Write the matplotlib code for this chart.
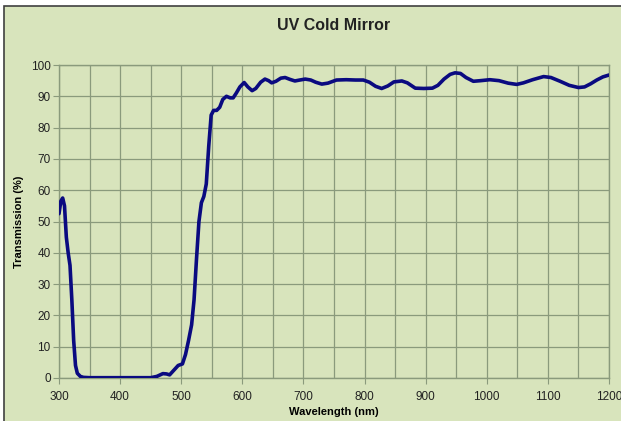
import matplotlib
matplotlib.use("Agg")
import matplotlib.pyplot as plt
from matplotlib.patches import Rectangle
import numpy as np

plt.rcParams['font.family'] = ['Liberation Sans', 'DejaVu Sans']

wavelength = [300, 303, 306, 309, 312, 315, 318, 321, 324, 327, 330, 335, 340, 350, 400, 450,
              460, 470, 476, 481, 488, 495, 502, 507, 512, 517, 521, 525, 529, 533, 537, 541,
              545, 549, 553, 558, 563, 568, 574, 580, 585, 590, 596, 603, 609, 616, 622, 630,
              637, 643, 648, 655, 663, 670, 678, 686, 694, 703, 712, 720, 730, 740, 754, 770,
              785, 798, 808, 818, 828, 838, 848, 861, 870, 883, 897, 911, 920, 930, 940, 948,
              957, 966, 978, 990, 1005, 1020, 1035, 1049, 1060, 1075, 1093, 1105, 1120, 1135,
              1150, 1160, 1170, 1180, 1190, 1200]
transmission = [52.5, 56.5, 57.5, 55.0, 45.0, 40.0, 36.0, 25.0, 12.0, 4.0, 1.5, 0.5, 0.2, 0.1, 0.1, 0.1,
                0.5, 1.4, 1.3, 1.0, 2.5, 4.0, 4.5, 7.5, 12.0, 17.0, 25.0, 38.0, 50.0, 56.0, 58.0, 62.0,
                74.0, 84.0, 85.5, 85.5, 86.5, 89.0, 90.0, 89.5, 89.5, 91.0, 93.0, 94.4, 93.0, 91.8, 92.5, 94.5,
                95.5, 95.0, 94.3, 94.8, 95.8, 96.0, 95.4, 94.9, 95.2, 95.5, 95.2, 94.5, 93.9, 94.2, 95.2, 95.3,
                95.2, 95.2, 94.5, 93.2, 92.5, 93.3, 94.6, 94.9, 94.3, 92.6, 92.5, 92.6, 93.5, 95.5, 97.0, 97.5,
                97.3, 96.0, 94.8, 95.0, 95.3, 95.0, 94.2, 93.8, 94.3, 95.3, 96.3, 96.0, 94.8, 93.5,
                92.8, 93.0, 94.0, 95.2, 96.2, 96.8]

xticks = [300, 400, 500, 600, 700, 800, 900, 1000, 1100, 1200]
yticks = [0, 10, 20, 30, 40, 50, 60, 70, 80, 90, 100]

bg = "#d8e4bc"
grid_c = "#8a9a7c"

fig = plt.figure(figsize=(6.21, 4.21), dpi=100)
fig.patch.set_facecolor("white")
fig.patches.append(Rectangle((4/621, -0.1), 1.2, 1.1 - 6/421, transform=fig.transFigure,
                             facecolor=bg, edgecolor="#404040", linewidth=1.2, zorder=-5))

ax = fig.add_axes([59/621, 1 - 378/421, 550/621, 313/421], zorder=2)
ax.set_facecolor(bg)
ax.plot(wavelength, transmission, color="#0a0a80", linewidth=2.6, solid_capstyle="round", zorder=3)

ax.set_xlim(300, 1200)
ax.set_ylim(0, 100)
ax.set_xticks(xticks)
ax.set_xticks(np.arange(350, 1200, 100), minor=True)
ax.set_yticks(yticks)
ax.grid(True, which="both", color=grid_c, linewidth=0.9)
ax.tick_params(which="minor", length=0)
ax.tick_params(which="major", length=4, color=grid_c, labelsize=8.5, labelcolor="#222222")
ax.tick_params(axis="x", which="major", pad=5)
ax.tick_params(axis="y", which="major", pad=2)
for s in ["left", "bottom", "right", "top"]:
    ax.spines[s].set_color(grid_c)
    ax.spines[s].set_linewidth(1.0)

ax.set_xlabel("Wavelength (nm)", fontsize=8, fontweight="bold", labelpad=3)
ax.set_ylabel("Transmission (%)", fontsize=8, fontweight="bold", labelpad=5)
fig.text(334/621, 1 - 25/421, "UV Cold Mirror", ha="center", va="center",
         fontsize=11.5, fontweight="bold", color="#222222")

fig.savefig("out.png", dpi=100, facecolor=fig.get_facecolor())
